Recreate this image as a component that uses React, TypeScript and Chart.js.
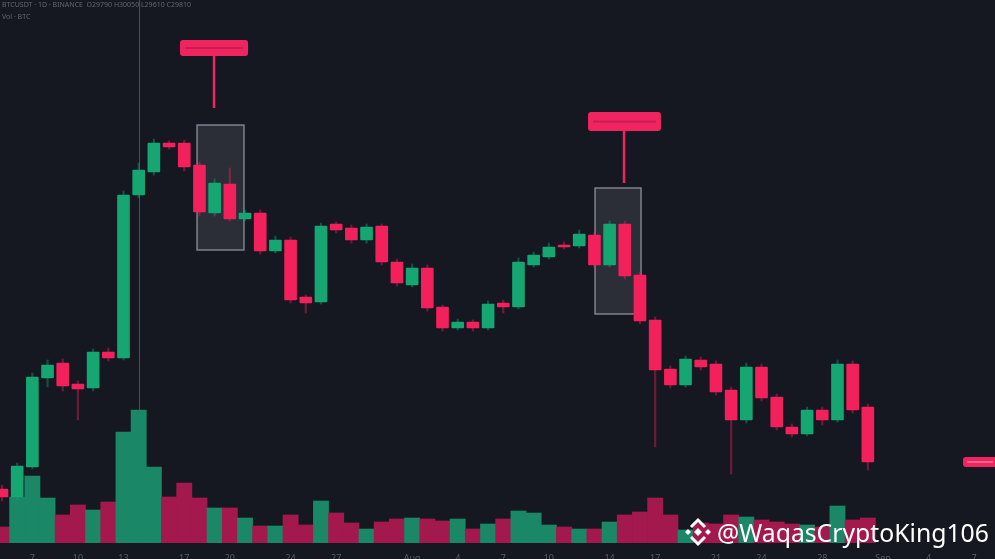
import React, { useEffect, useRef } from 'react';
import { Chart, registerables } from 'chart.js';

Chart.register(...registerables);

const BG = '#161821';
const UP = '#16a672';
const DOWN = '#f2215c';
const UP_VOL = '#1a8767';
const DOWN_VOL = '#a3194d';
const PINK = '#f0245f';

// Daily candles (price units)
const opens = [28540, 28460, 28760, 29650, 29800, 29590, 29550, 29910, 29850, 31480, 31710, 32000, 32000, 31780, 31300, 31590, 31240, 31300, 30920, 31030, 30460, 30410, 31190, 31150, 31030, 31170, 30810, 30580, 30750, 30360, 30150, 30210, 30150, 30400, 30360, 30780, 30860, 30980, 30970, 31080, 30780, 31190, 30680, 30230, 29740, 29580, 29830, 29790, 29530, 29230, 29760, 29460, 29160, 29090, 29330, 29230, 29790, 29360];
const closes = [28460, 28770, 29660, 29780, 29570, 29540, 29910, 29850, 31480, 31730, 32000, 31960, 31760, 31310, 31600, 31240, 31300, 30920, 31030, 30430, 30400, 31170, 31130, 31030, 31160, 30810, 30600, 30750, 30350, 30150, 30210, 30150, 30390, 30360, 30810, 30880, 30960, 30960, 31090, 30780, 31190, 30670, 30220, 29730, 29580, 29840, 29760, 29510, 29230, 29760, 29450, 29160, 29090, 29330, 29230, 29790, 29330, 28810];
const highs = [28580, 28800, 29700, 29830, 29840, 29620, 29940, 29950, 31520, 31800, 32040, 32020, 32030, 31810, 31640, 31750, 31330, 31330, 31070, 31060, 30480, 31200, 31210, 31180, 31190, 31190, 30840, 30790, 30780, 30380, 30240, 30230, 30420, 30430, 30850, 30910, 31000, 31010, 31130, 31110, 31220, 31220, 30710, 30260, 29770, 29870, 29860, 29820, 29560, 29800, 29790, 29490, 29190, 29360, 29360, 29830, 29820, 29390];
const lows = [28420, 28430, 28740, 29560, 29520, 29230, 29520, 29820, 29830, 31450, 31680, 31940, 31720, 31270, 31270, 31220, 31220, 30890, 30900, 30400, 30300, 30390, 31100, 31000, 31000, 30780, 30570, 30560, 30320, 30120, 30130, 30120, 30130, 30300, 30340, 30760, 30840, 30940, 30950, 30750, 30760, 30640, 30190, 28960, 29550, 29560, 29730, 29480, 28690, 29200, 29420, 29130, 29060, 29070, 29180, 29210, 29300, 28730];
const volumes = [1600, 4600, 6700, 4500, 2800, 3800, 3300, 4100, 11100, 13300, 7600, 4600, 6000, 4500, 3500, 3500, 2500, 1700, 1700, 2800, 1800, 4200, 3000, 2000, 1400, 2100, 2400, 2500, 2400, 2200, 2400, 1400, 1900, 2400, 3200, 3000, 1800, 1600, 1400, 1400, 2100, 2800, 3100, 4500, 2800, 1300, 2000, 1900, 2800, 2600, 2300, 2100, 1900, 1800, 1600, 3700, 2300, 2500];

// Date ticks (candle index -> label)
const tickIndex = [2, 5, 8, 12, 15, 19, 22, 27, 30, 33, 36, 40, 43, 47, 50, 54, 58, 61, 64];
const tickText = ['7', '10', '13', '17', '20', '24', '27', 'Aug', '4', '7', '10', '14', '17', '21', '24', '28', 'Sep', '4', '7'];

const headerLines = ['BTCUSDT · 1D · BINANCE  O29790 H30050 L29610 C29810', 'Vol · BTC'];
const watermark = '@WaqasCryptoKing106';
const crosshairIndex = 9;

// Highlight boxes (candle index / price space)
const boxX0 = [12.84, 39.04];
const boxX1 = [15.93, 42.07];
const boxTop = [32180, 31550];
const boxBottom = [30930, 30290];

// Pink callouts above the boxes
const calloutX0 = [11.72, 38.58];
const calloutX1 = [16.2, 43.38];
const calloutTop = [33030, 32310];
const calloutBottom = [32870, 32120];
const stemX = [13.96, 40.95];
const stemEnd = [32350, 31600];

function roundRect(ctx: CanvasRenderingContext2D, x: number, y: number, w: number, h: number, r: number) {
  ctx.beginPath();
  ctx.moveTo(x + r, y);
  ctx.lineTo(x + w - r, y);
  ctx.quadraticCurveTo(x + w, y, x + w, y + r);
  ctx.lineTo(x + w, y + h - r);
  ctx.quadraticCurveTo(x + w, y + h, x + w - r, y + h);
  ctx.lineTo(x + r, y + h);
  ctx.quadraticCurveTo(x, y + h, x, y + h - r);
  ctx.lineTo(x, y + r);
  ctx.quadraticCurveTo(x, y, x + r, y);
  ctx.closePath();
}

function diamond(ctx: CanvasRenderingContext2D, cx: number, cy: number, r: number) {
  ctx.beginPath();
  ctx.moveTo(cx, cy - r);
  ctx.lineTo(cx + r, cy);
  ctx.lineTo(cx, cy + r);
  ctx.lineTo(cx - r, cy);
  ctx.closePath();
  ctx.fill();
}

const overlayPlugin = {
  id: 'overlay',
  beforeDatasetsDraw(chart: any) {
    const { ctx, scales, chartArea } = chart;
    const x = scales.x;
    const y = scales.y;
    ctx.save();
    // crosshair
    const cx = Math.round(x.getPixelForValue(crosshairIndex)) + 0.5;
    ctx.strokeStyle = 'rgba(140,144,156,0.45)';
    ctx.lineWidth = 1;
    ctx.beginPath();
    ctx.moveTo(cx, 0);
    ctx.lineTo(cx, chartArea.bottom);
    ctx.stroke();
    // highlight boxes
    for (let i = 0; i < boxX0.length; i++) {
      const l = x.getPixelForValue(boxX0[i]);
      const r = x.getPixelForValue(boxX1[i]);
      const t = y.getPixelForValue(boxTop[i]);
      const b = y.getPixelForValue(boxBottom[i]);
      ctx.fillStyle = 'rgba(120,124,138,0.22)';
      ctx.fillRect(l, t, r - l, b - t);
      ctx.strokeStyle = 'rgba(150,154,166,0.8)';
      ctx.lineWidth = 1.5;
      ctx.strokeRect(l, t, r - l, b - t);
    }
    ctx.restore();
  },
  afterDraw(chart: any) {
    const { ctx, scales, width } = chart;
    const x = scales.x;
    const y = scales.y;
    ctx.save();
    // header legend
    ctx.fillStyle = 'rgba(130,133,142,0.7)';
    ctx.font = '7px "Noto Sans", sans-serif';
    ctx.textBaseline = 'middle';
    ctx.fillText(headerLines[0], 2, 5);
    ctx.fillText(headerLines[1], 2, 17);

    // callouts
    for (let i = 0; i < calloutX0.length; i++) {
      const l = x.getPixelForValue(calloutX0[i]);
      const r = x.getPixelForValue(calloutX1[i]);
      const t = y.getPixelForValue(calloutTop[i]);
      const b = y.getPixelForValue(calloutBottom[i]);
      const sx = x.getPixelForValue(stemX[i]);
      const se = y.getPixelForValue(stemEnd[i]);
      ctx.fillStyle = PINK;
      roundRect(ctx, l, t, r - l, b - t, 3);
      ctx.fill();
      ctx.fillRect(sx - 1.25, b - 1, 2.5, se - b + 1);
      ctx.fillStyle = 'rgba(150,20,60,0.4)';
      ctx.fillRect(l + 5, (t + b) / 2 - 1, r - l - 10, 2);
    }

    // last price tag
    const lastY = y.getPixelForValue(closes[closes.length - 1]);
    ctx.fillStyle = PINK;
    roundRect(ctx, width - 32, lastY - 5, 34, 10, 3);
    ctx.fill();
    ctx.fillStyle = 'rgba(255,160,190,0.5)';
    ctx.fillRect(width - 28, lastY - 1, 26, 2);

    // watermark
    ctx.fillStyle = '#ffffff';
    ctx.textBaseline = 'alphabetic';
    let fs = 24;
    ctx.font = `${fs}px "Noto Sans", sans-serif`;
    const w = ctx.measureText(watermark).width;
    fs = fs * 272 / w;
    ctx.font = `${fs}px "Noto Sans", sans-serif`;
    ctx.fillText(watermark, 717, 542);

    // Binance-like logo
    const lx = 698, ly = 532;
    diamond(ctx, lx, ly, 4);
    diamond(ctx, lx - 10, ly, 3);
    diamond(ctx, lx + 10, ly, 3);
    ctx.strokeStyle = '#ffffff';
    ctx.lineWidth = 3;
    ctx.beginPath();
    ctx.moveTo(lx - 7, ly - 5);
    ctx.lineTo(lx, ly - 12);
    ctx.lineTo(lx + 7, ly - 5);
    ctx.stroke();
    ctx.beginPath();
    ctx.moveTo(lx - 7, ly + 5);
    ctx.lineTo(lx, ly + 12);
    ctx.lineTo(lx + 7, ly + 5);
    ctx.stroke();
    ctx.restore();
  },
};

export default function App() {
  const ref = useRef<HTMLCanvasElement>(null);

  useEffect(() => {
    document.body.style.margin = '0';
    document.body.style.background = BG;
    const idx = opens.map((_, i) => i);
    const isUp = (i: number) => closes[i] >= opens[i];
    const chart = new Chart(ref.current as HTMLCanvasElement, {
      type: 'bar',
      data: {
        datasets: [
          {
            label: 'Body',
            data: idx.map((i) => ({ x: i, y: [opens[i], closes[i]] })) as any,
            backgroundColor: idx.map((i) => (isUp(i) ? UP : DOWN)),
            barThickness: 12,
            minBarLength: 2,
            grouped: false,
            borderSkipped: false,
            borderRadius: 1,
            yAxisID: 'y',
            order: 1,
          } as any,
          {
            label: 'Wick',
            data: idx.map((i) => ({ x: i, y: [lows[i], highs[i]] })) as any,
            backgroundColor: idx.map((i) => (isUp(i) ? 'rgba(22,166,114,0.4)' : 'rgba(242,33,92,0.4)')),
            barThickness: 1.5,
            grouped: false,
            yAxisID: 'y',
            order: 2,
          } as any,
          {
            label: 'Volume',
            data: idx.map((i) => ({ x: i, y: volumes[i] })) as any,
            backgroundColor: idx.map((i) => (isUp(i) ? UP_VOL : DOWN_VOL)),
            barThickness: 15.2,
            grouped: false,
            yAxisID: 'yv',
            order: 3,
          } as any,
        ],
      },
      options: {
        responsive: false,
        devicePixelRatio: 1,
        animation: false,
        events: [],
        layout: { padding: 0 },
        plugins: { legend: { display: false }, tooltip: { enabled: false } },
        scales: {
          x: {
            type: 'linear',
            min: -0.13,
            max: 65.37,
            offset: false,
            grid: { display: false },
            border: { display: false },
            afterBuildTicks: (axis: any) => {
              axis.ticks = tickIndex.map((v) => ({ value: v }));
            },
            afterFit: (axis: any) => {
              axis.height = 16;
            },
            ticks: {
              autoSkip: false,
              maxRotation: 0,
              padding: 2,
              color: '#5a5e68',
              font: { size: 9, family: '"Noto Sans", sans-serif' },
              callback: (_v: any, i: number) => tickText[i],
            },
          } as any,
          y: { display: false, min: 28000, max: 33430 },
          yv: { display: false, min: 0, max: 54300 },
        },
      },
      plugins: [overlayPlugin],
    });
    return () => chart.destroy();
  }, []);

  return (
    <div style={{ position: 'fixed', left: 0, top: 0, width: 995, height: 559, background: BG }}>
      <canvas ref={ref} width={995} height={559} style={{ display: 'block' }} />
    </div>
  );
}
